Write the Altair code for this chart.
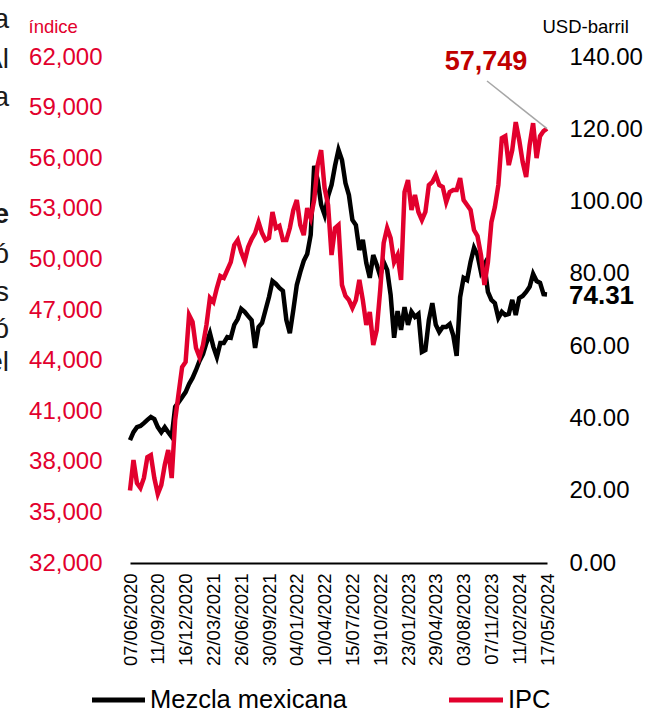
import altair as alt
import pandas as pd

# ---------------- data ----------------
start_date = "2020-06-07"
n_points = 121  # sampled every 12 days up to 2024-05-17

mezcla = [34.0, 36.2, 37.6, 37.9, 38.7, 39.6, 40.4, 39.8, 37.6, 36.2,
          37.6, 36.2, 34.9, 43.2, 44.5, 45.9, 47.3, 49.5, 51.2, 53.4,
          55.9, 57.8, 60.9, 63.6, 59.8, 57.0, 60.9, 60.9, 62.5, 62.3,
          65.9, 67.5, 70.3, 69.5, 68.3, 67.2, 59.5, 65.3, 66.4, 70.0,
          73.6, 78.0, 77.2, 76.1, 75.3, 67.2, 63.6, 70.0, 76.9, 80.5,
          83.6, 85.5, 90.8, 109.9, 106.0, 99.1, 96.3, 101.5, 104.6, 109.9,
          114.3, 111.5, 105.1, 101.8, 94.9, 93.5, 86.6, 89.4, 83.0, 78.9,
          85.2, 82.5, 79.4, 83.3, 81.1, 74.2, 62.3, 69.7, 64.5, 70.8,
          65.9, 69.5, 68.1, 68.9, 58.4, 58.9, 67.2, 71.9, 65.9, 63.9,
          65.3, 65.3, 66.1, 63.1, 57.3, 73.6, 78.9, 78.3, 83.3, 87.2,
          85.2, 80.5, 82.5, 75.0, 72.8, 71.9, 67.8, 69.5, 68.6, 68.9,
          72.8, 68.6, 73.3, 73.9, 75.0, 76.4, 80.0, 78.0, 77.5, 74.4,
          74.31]

ipc = [36300, 38100, 36740, 36450, 37040, 38280, 38400, 37040, 36090, 36620,
       37810, 38700, 37040, 40480, 42080, 43620, 43920, 46700, 46290, 44750,
       44210, 44920, 46110, 47710, 47470, 48300, 49010, 48900, 49370, 49840,
       50850, 51150, 50440, 49900, 50730, 51210, 51560, 52210, 51560, 51150,
       51270, 52810, 51860, 51980, 51150, 51150, 51860, 52930, 53520, 52040,
       51440, 53040, 52450, 53520, 55590, 56480, 54230, 53220, 50260, 51860,
       52040, 48480, 47830, 47590, 47120, 47590, 48780, 47590, 46110, 46880,
       44920, 45810, 48180, 50970, 51860, 51270, 49840, 50260, 48780, 53990,
       54700, 52930, 53820, 52810, 52330, 52810, 54410, 54590, 55000, 54410,
       54290, 53400, 53990, 54110, 54110, 54820, 53520, 53220, 52930, 51740,
       51380, 50260, 48480, 49840, 52210, 53100, 54410, 57190, 57310, 55590,
       56480, 58140, 57080, 55770, 54880, 56780, 58080, 56010, 57310, 57610,
       57749]

tick_dates = ["2020-06-07", "2020-09-11", "2020-12-16", "2021-03-22",
              "2021-06-26", "2021-09-30", "2022-01-04", "2022-04-10",
              "2022-07-15", "2022-10-19", "2023-01-23", "2023-04-29",
              "2023-08-03", "2023-11-07", "2024-02-11", "2024-05-17"]

ipc_ticks = list(range(32000, 62001, 3000))
oil_ticks = list(range(0, 141, 20))

series_names = ["Mezcla mexicana", "IPC"]
left_fragments = ["a", "Al", "a", "e", "ó", "s", "ó", "el"]

# ---------------- build tables ----------------
dates = pd.date_range(start_date, periods=n_points, freq="12D").strftime("%Y-%m-%d")
df = pd.DataFrame({"fecha": dates, "mezcla": mezcla, "ipc": ipc})
last = df.tail(1).copy()
last["ipc_txt"] = "57,749"
last["mez_txt"] = "74.31"

RED = "#E2002D"
DARKRED = "#C00000"
FONT = "Liberation Sans"

def dt(s):
    y, m, d = s.split("-")
    return alt.DateTime(year=int(y), month=int(m), date=int(d), utc=True)

x_axis = alt.Axis(values=[dt(s) for s in tick_dates], format="%d/%m/%Y",
                  labelAngle=270, labelFontSize=18.5, labelFont=FONT,
                  labelColor="black", labelPadding=10, ticks=False,
                  grid=False, domain=True, domainColor="black",
                  domainWidth=2, title=None, labelOverlap=False)
X = alt.X("fecha:T", axis=x_axis, scale=alt.Scale(type="utc", nice=False))

left_axis = alt.Axis(orient="left", values=ipc_ticks, format=",.0f",
                     labelColor=RED, labelFontSize=24, labelFont=FONT,
                     domain=False, ticks=False, grid=False, labelPadding=28,
                     title="índice", titleColor=RED, titleFontSize=18.5,
                     titleFont=FONT, titleFontWeight="normal", titleAngle=0,
                     titleX=-102, titleY=-31, titleAlign="left",
                     titleBaseline="middle")
right_axis = alt.Axis(orient="right", values=oil_ticks, format=".2f",
                      labelColor="black", labelFontSize=24, labelFont=FONT,
                      domain=False, ticks=False, grid=False, labelPadding=22,
                      title="USD-barril", titleColor="black",
                      titleFontSize=18.5, titleFont=FONT,
                      titleFontWeight="normal", titleAngle=0, titleX=-5,
                      titleY=-31, titleAlign="left", titleBaseline="middle")

Y_oil = alt.Y("mezcla:Q", axis=right_axis,
              scale=alt.Scale(domain=[0, 140], nice=False, zero=False))
Y_ipc = alt.Y("ipc:Q", axis=left_axis,
              scale=alt.Scale(domain=[32000, 62000], nice=False, zero=False))

black_line = alt.Chart(df).mark_line(color="black", strokeWidth=4.5).encode(x=X, y=Y_oil)
black_label = alt.Chart(last).mark_text(
    align="left", baseline="middle", dx=22, dy=2, fontSize=26,
    fontWeight="bold", font=FONT, color="black").encode(x=X, y=Y_oil, text="mez_txt:N")
black_layer = alt.layer(black_line, black_label)

red_line = alt.Chart(df).mark_line(color=RED, strokeWidth=4.5).encode(x=X, y=Y_ipc)
leader = alt.Chart(last).mark_rule(color="#A6A6A6", strokeWidth=1.5).encode(
    x=X, y=Y_ipc, x2=alt.value(357), y2=alt.value(24))
red_label = alt.Chart(last).mark_text(
    align="center", baseline="middle", dx=-61, dy=-67, fontSize=27,
    fontWeight="bold", font=FONT, color=DARKRED).encode(x=X, y=Y_ipc, text="ipc_txt:N")
red_layer = alt.layer(red_line, leader, red_label)

# legend (drawn manually below the axis)
LEG_Y = 643
leg_black = alt.Chart(df.head(1)).mark_rule(color="black", strokeWidth=5).encode(
    x=alt.value(-38), x2=alt.value(15), y=alt.value(LEG_Y))
leg_black_t = alt.Chart(df.head(1)).mark_text(
    align="left", baseline="middle", fontSize=25.5, font=FONT, color="black",
    text=series_names[0]).encode(x=alt.value(20), y=alt.value(LEG_Y))
leg_red = alt.Chart(df.head(1)).mark_rule(color=RED, strokeWidth=5).encode(
    x=alt.value(319), x2=alt.value(373), y=alt.value(LEG_Y))
leg_red_t = alt.Chart(df.head(1)).mark_text(
    align="left", baseline="middle", fontSize=25.5, font=FONT, color="black",
    text=series_names[1]).encode(x=alt.value(378), y=alt.value(LEG_Y))

# cut-off fragments of neighbouring text at the left edge
frag_y = [-29, 11, 49, 166, 206, 244, 281, 314]
frags = []
for txt, yy in zip(left_fragments, frag_y):
    frags.append(alt.Chart(df.head(1)).mark_text(
        align="right", baseline="alphabetic", fontSize=28, font=FONT,
        color="#1a1a1a", fontWeight="bold" if txt == "e" else "normal",
        text=txt).encode(x=alt.value(-121), y=alt.value(yy)))

chart = alt.layer(
    black_layer, red_layer, leg_black, leg_black_t, leg_red, leg_red_t, *frags
).resolve_scale(y="independent").properties(
    width=417, height=506,
    autosize=alt.AutoSizeParams(type="none"),
    padding={"left": 130, "top": 57, "right": 108, "bottom": 152},
).configure_view(stroke=None)

chart.save("out.html", embed_options={"renderer": "svg", "actions": False})
